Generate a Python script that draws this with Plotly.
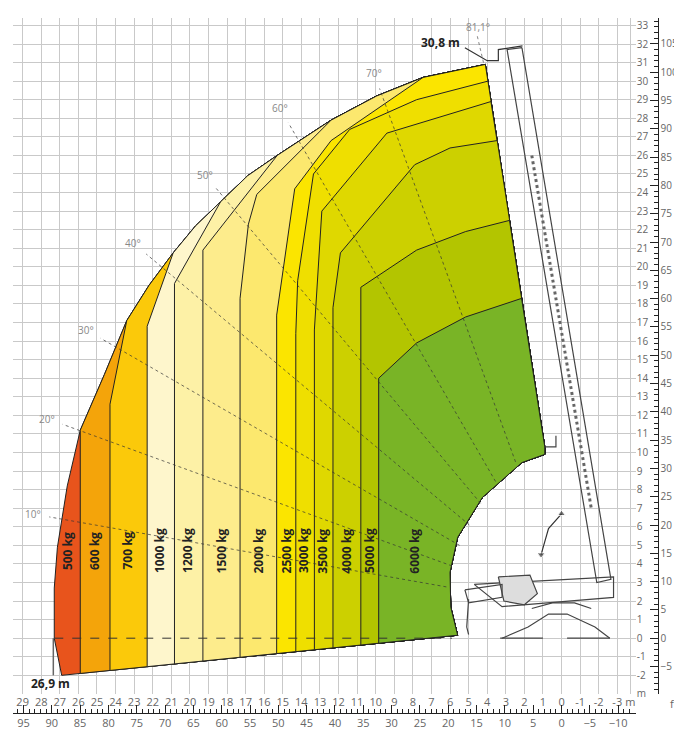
import numpy as np
import plotly.graph_objects as go

# ---- data (metres, x = outreach, y = height) ----
loads = ["500 kg", "600 kg", "700 kg", "1000 kg", "1200 kg", "1500 kg", "2000 kg",
         "2500 kg", "3000 kg", "3500 kg", "4000 kg", "5000 kg", "6000 kg"]
colors = ["#e8541c", "#f4a40a", "#fbc90a", "#fef6cc", "#fdf1a6", "#fdec8c", "#fce86e",
          "#fbe500", "#efdf00", "#dfd800", "#ccd000", "#b3c500", "#79b426"]
label_x = [26.55, 25.1, 23.35, 21.6, 20.1, 18.3, 16.3, 14.8, 13.85, 12.85, 11.55, 10.3, 7.9]

outer_x = [26.9, 27.3, 27.3, 27.13, 26.6, 25.9, 24.6, 23.4, 22.2, 20.9, 19.7, 18.35,
           16.9, 15.3, 13.8, 12.4, 9.95, 7.45, 4.1]
outer_y = [-2.0, 0.0, 2.7, 4.9, 8.2, 11.2, 14.2, 17.1, 19.0, 20.75, 22.2, 23.5,
           24.9, 26.0, 27.0, 27.9, 29.2, 30.2, 30.9]

right_x = [4.1, 0.9]
right_y = [30.9, 10.3]

inner_x = [0.9, 2.13, 4.26, 5.59, 6.0, 5.96, 5.59]
inner_y = [9.9, 9.46, 7.58, 5.43, 3.55, 1.67, 0.16]

bottom_x = [5.59, 26.9]
bottom_y = [0.16, -2.0]

# boundaries between load zones, bottom to top (first point sits on the bottom line)
bnd_x = [
    [25.9, 25.9],
    [24.3, 24.3, 23.4],
    [22.3, 22.3, 20.9],
    [20.83, 20.83, 18.35],
    [19.3, 19.3, 15.3],
    [17.3, 17.3, 16.85, 16.4, 12.4],
    [15.33, 15.33, 14.36, 12.4, 7.45],
    [14.3, 14.3, 14.2, 13.35, 11.4, 7.8, 3.96],
    [13.3, 13.3, 12.9, 9.4, 3.8],
    [12.3, 12.3, 11.9, 7.9, 6.0, 3.46],
    [10.8, 10.8, 7.8, 5.16, 2.8],
    [9.84, 9.84, 7.8, 5.16, 2.15],
]
bnd_y = [
    [None, 11.2],
    [None, 12.6, 17.1],
    [None, 16.8, 20.75],
    [None, 19.1, 23.5],
    [None, 20.9, 26.0],
    [None, 18.3, 22.3, 23.9, 27.9],
    [None, 17.4, 24.2, 26.8, 30.2],
    [None, 16.4, 19.25, 25.0, 27.4, 29.0, 30.0],
    [None, 16.6, 23.0, 27.2, 28.9],
    [None, 17.8, 20.75, 25.5, 26.4, 26.8],
    [None, 18.9, 20.9, 21.9, 22.5],
    [None, 14.0, 15.9, 17.3, 18.3],
]
ends_on_outer = [True, True, True, True, True, True, True, False, False, False, False, False]

angles = [10, 20, 30, 40, 50, 60, 70]
angle_r_in = [6.7, 6.7, 6.8, 7.0, 7.4, 7.9, 8.4]
angle_r_out = [28.4, 29.0, 29.1, 29.7, 29.6, 30.2, 29.8]
pivot = (-0.4, 1.6)


def bottom_at(x):
    return float(np.interp(x, bottom_x, bottom_y))


fig = go.Figure()

# whole envelope in the first colour
env_x = outer_x + right_x + inner_x + [bottom_x[1]]
env_y = outer_y + right_y + inner_y + [bottom_y[1]]
fig.add_trace(go.Scatter(x=env_x, y=env_y, fill="toself", fillcolor=colors[0], mode="lines",
                         line=dict(color="#222", width=1), hoverinfo="skip", showlegend=False))

# each next zone covers everything to the right of its boundary
for i, (bx, by) in enumerate(zip(bnd_x, bnd_y)):
    by = [bottom_at(bx[0])] + by[1:]
    xs, ys = list(bx), list(by)
    if ends_on_outer[i]:
        for ox, oy in zip(outer_x, outer_y):
            if ox < bx[-1] - 0.05:
                xs.append(ox)
                ys.append(oy)
    xs += right_x[1:] + inner_x + [bx[0]]
    ys += right_y[1:] + inner_y + [by[0]]
    fig.add_trace(go.Scatter(x=xs, y=ys, fill="toself", fillcolor=colors[i + 1], mode="lines",
                             line=dict(color="#222", width=1), hoverinfo="skip", showlegend=False))

# angle rays
for a, r0, r1 in zip(angles, angle_r_in, angle_r_out):
    t = np.radians(a)
    fig.add_trace(go.Scatter(x=[pivot[0] + r0 * np.cos(t), pivot[0] + r1 * np.cos(t)],
                             y=[pivot[1] + r0 * np.sin(t), pivot[1] + r1 * np.sin(t)],
                             mode="lines", line=dict(color="#333", width=0.7, dash="dot"),
                             hoverinfo="skip", showlegend=False))
    fig.add_annotation(x=pivot[0] + (r1 + 0.9) * np.cos(t), y=pivot[1] + (r1 + 0.9) * np.sin(t),
                       text=f"{a}°", showarrow=False, font=dict(size=10, color="#888"))
fig.add_trace(go.Scatter(x=[4.2, 4.55], y=[31.0, 32.5], mode="lines",
                         line=dict(color="#555", width=0.7, dash="dot"), showlegend=False, hoverinfo="skip"))
fig.add_annotation(x=4.5, y=32.9, text="81,1°", showarrow=False, font=dict(size=10, color="#888"))

# horizontal dashed ground line and left edge
fig.add_trace(go.Scatter(x=[27.3, 5.9], y=[0, 0], mode="lines",
                         line=dict(color="#333", width=1, dash="dash"), showlegend=False, hoverinfo="skip"))
fig.add_trace(go.Scatter(x=[27.35, 27.35], y=[0, -2.0], mode="lines",
                         line=dict(color="#666", width=1.5), showlegend=False, hoverinfo="skip"))

# load labels
for lx, txt in zip(label_x, loads):
    fig.add_annotation(x=lx, y=4.7, text=f"<b>{txt}</b>", textangle=-90, showarrow=False,
                       font=dict(size=12, color="#222", family="Open Sans"))

fig.add_annotation(x=27.5, y=-2.45, text="<b>26,9 m</b>", showarrow=False,
                   font=dict(size=12, color="#222", family="Open Sans"))
fig.add_annotation(x=6.5, y=32.1, text="<b>30,8 m</b>", showarrow=False,
                   font=dict(size=12, color="#222", family="Open Sans"))
fig.add_trace(go.Scatter(x=[5.2, 4.0, 3.4, 3.4, 2.1], y=[31.8, 31.1, 31.1, 31.7, 31.9], mode="lines",
                         line=dict(color="#333", width=1.2), showlegend=False, hoverinfo="skip"))

# machine sketch
mach = dict(mode="lines", line=dict(color="#444", width=1.2), showlegend=False, hoverinfo="skip")
fig.add_trace(go.Scatter(x=[2.13, -2.66, -1.9, 2.93, 2.13], y=[31.8, 3.17, 3.0, 31.7, 31.8], **mach))
fig.add_trace(go.Scatter(x=[1.6, -1.6], y=[26.0, 7.0], mode="lines",
                         line=dict(color="#666", width=3, dash="dot"), showlegend=False, hoverinfo="skip"))
fig.add_trace(go.Scatter(x=[4.7, -2.8, -2.8, 3.2, 4.7], y=[2.9, 3.3, 2.2, 1.7, 2.9], **mach))
fig.add_trace(go.Scatter(x=[3.4, 1.7, 1.3, 2.0, 3.1, 3.4], y=[3.3, 3.4, 2.4, 1.8, 2.0, 3.3],
                         fill="toself", fillcolor="#ddd", **mach))
fig.add_trace(go.Scatter(x=[5.2, 3.2, 3.2, 5.0, 5.2], y=[2.6, 2.9, 2.2, 1.9, 2.6], **mach))
fig.add_trace(go.Scatter(x=[5.0, 5.1, 5.0], y=[2.1, 0.6, 0.2], **mach))
fig.add_trace(go.Scatter(x=[1.6, 0.5, -0.7, -1.6], y=[1.6, 1.9, 1.9, 1.6], **mach))
fig.add_trace(go.Scatter(x=[3.2, 1.8, 0.7, -0.3, -1.8, -2.6], y=[0.0, 0.6, 1.3, 1.3, 0.6, 0.0], **mach))
fig.add_trace(go.Scatter(x=[3.3, 1.0], y=[0.0, 0.0], **mach))
fig.add_trace(go.Scatter(x=[-0.3, -2.6], y=[0.0, 0.0], **mach))
fig.add_trace(go.Scatter(x=[0.9, 0.3, 0.3], y=[10.3, 10.3, 10.9], **mach))
fig.add_trace(go.Scatter(x=[1.1, 0.7, 0.0], y=[4.5, 5.9, 6.7], mode="lines+markers",
                         line=dict(color="#333", width=1.2),
                         marker=dict(symbol=["triangle-down", "circle", "triangle-up"], size=[7, 0, 7],
                                     color="#333"), showlegend=False, hoverinfo="skip"))

# axes
xr = [29.52, -4.0]
yr = [-3.0, 33.4]
x_ticks = list(range(29, -4, -1))
y_ticks = list(range(-2, 34))
fig.update_layout(
    width=682, height=740,
    margin=dict(l=5, r=0, t=10, b=14),
    paper_bgcolor="white", plot_bgcolor="white",
    font=dict(family="Open Sans", color="#666"),
    xaxis=dict(range=xr, domain=[0, 0.92], tickvals=x_ticks + [-3.7],
               ticktext=[str(v) for v in x_ticks] + ["m"],
               showgrid=True, gridcolor="#c9c9c9", gridwidth=1, zeroline=False,
               tickfont=dict(size=11, color="#666"), ticks="", anchor="y"),
    yaxis=dict(range=yr, domain=[0.056, 1], side="right", tickvals=y_ticks + [-3],
               ticktext=[str(v) for v in y_ticks] + ["m"],
               showgrid=True, gridcolor="#c9c9c9", gridwidth=1, zeroline=False,
               tickfont=dict(size=10, color="#666"), ticks="", anchor="x"),
    xaxis2=dict(range=[v * 3.28084 for v in xr], overlaying="x", anchor="free", position=0.03,
                side="bottom", domain=[0, 0.952], showgrid=False, zeroline=False,
                showline=True, linecolor="#222", linewidth=1,
                ticks="inside", ticklen=8, tickcolor="#222", dtick=5, tick0=0,
                tickfont=dict(size=11, color="#666"),
                minor=dict(ticks="inside", ticklen=4, dtick=1, tickcolor="#222")),
    yaxis2=dict(range=[v * 3.28084 for v in yr], overlaying="y", anchor="free", position=0.952,
                side="right", domain=[0.056, 1], showgrid=False, zeroline=False,
                showline=True, linecolor="#222", linewidth=1,
                ticks="inside", ticklen=8, tickcolor="#222", dtick=5, tick0=0,
                tickfont=dict(size=10, color="#666"),
                minor=dict(ticks="inside", ticklen=4, dtick=1, tickcolor="#222")),
)
# a dummy trace to activate the ft axes
fig.add_trace(go.Scatter(x=[0], y=[0], xaxis="x2", yaxis="y2", mode="markers",
                         marker=dict(opacity=0), showlegend=False, hoverinfo="skip"))
fig.add_annotation(xref="paper", yref="paper", x=0.985, y=0.03, text="ft", showarrow=False,
                   xanchor="right", font=dict(size=11, color="#666"))

fig.write_html("out.html")
